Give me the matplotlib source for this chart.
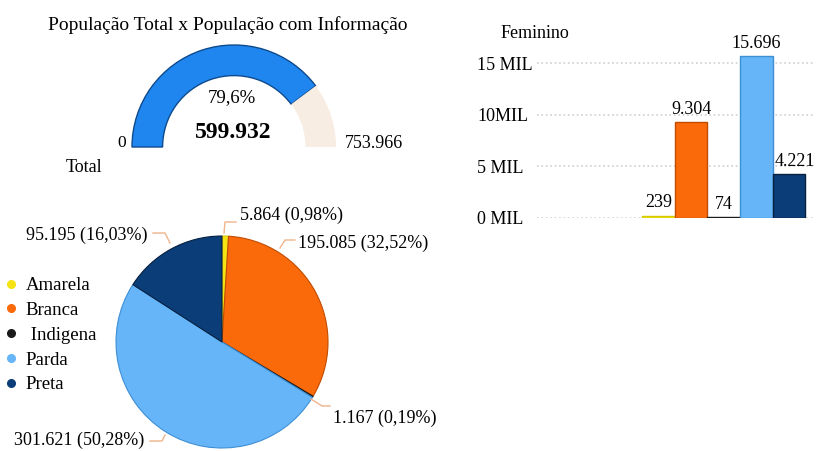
import matplotlib
matplotlib.use('Agg')
import matplotlib.pyplot as plt
from matplotlib.lines import Line2D

plt.rcParams['font.family'] = ['Liberation Serif', 'DejaVu Serif']
plt.rcParams['font.size'] = 13

# dados
pop_total = 753966
pop_info = 599932
perc_info = '79,6%'

racas = ['Amarela', 'Branca', 'Indigena', 'Parda', 'Preta']
total_raca = [5864, 195085, 1167, 301621, 95195]
perc_raca = ['0,98%', '32,52%', '0,19%', '50,28%', '16,03%']
feminino = [239, 9304, 74, 15696, 4221]
ticks_fem = [0, 5000, 10000, 15000]
ticks_fem_txt = ['0 MIL', '5 MIL', '10MIL', '15 MIL']

cores = ['#f5e313', '#fb6a0a', '#1a1a1a', '#66b5f8', '#0b3d78']
bordas = ['#d8c800', '#c04c00', '#1a1a1a', '#3d8fd6', '#06203f']

W, H = 817, 451


def fx(x):
    return x / W


def fy(y):
    return 1 - y / H


def fmt(v):
    return f'{v:,}'.replace(',', '.')


fig = plt.figure(figsize=(W / 100, H / 100), dpi=100)

# ---- gauge ----
cx, cy, R = 234, 147, 102
k = 1.3
ax_g = fig.add_axes([fx(cx - k * R), fy(cy + k * R), 2 * k * R / W, 2 * k * R / H])
wg, _ = ax_g.pie([pop_info, pop_total - pop_info, pop_total],
                 colors=['#1e86ee', '#f8ede3', 'none'],
                 startangle=180, counterclock=False, radius=1,
                 wedgeprops=dict(width=0.30, linewidth=0))
wg[0].set_edgecolor('#0e4a8e')
wg[0].set_linewidth(1.0)
ax_g.set_xlim(-k, k)
ax_g.set_ylim(-k, k)
ax_g.set_aspect('equal')
ax_g.axis('off')

fig.text(fx(228), fy(25), 'População Total x População com Informação',
         ha='center', va='center', fontsize=14)
fig.text(fx(232), fy(98), perc_info, ha='center', va='center', fontsize=13.5)
fig.text(fx(233), fy(132), fmt(pop_info), ha='center', va='center',
         fontsize=17, fontweight='bold')
fig.text(fx(122), fy(143), '0', ha='center', va='center', fontsize=12.5)
fig.text(fx(374), fy(143), fmt(pop_total), ha='center', va='center', fontsize=13)
fig.text(fx(66), fy(167), 'Total', ha='left', va='center', fontsize=13)

# ---- pizza ----
pcx, pcy, PR = 222, 342, 106
kp = 1.02
ax_p = fig.add_axes([fx(pcx - kp * PR), fy(pcy + kp * PR), 2 * kp * PR / W, 2 * kp * PR / H])
wp, _ = ax_p.pie(total_raca, colors=cores, startangle=90, counterclock=False,
                 radius=1, wedgeprops=dict(linewidth=0.8))
for w, b in zip(wp, bordas):
    w.set_edgecolor(b)
ax_p.set_xlim(-kp, kp)
ax_p.set_ylim(-kp, kp)
ax_p.set_aspect('equal')
ax_p.axis('off')

# rótulos com linhas guia
guias = [
    [(224, 233), (225, 222), (236, 222)],
    [(280, 248), (285, 240), (295, 240)],
    [(311, 399), (322, 406), (330, 406)],
    [(165, 435), (162, 441), (150, 441)],
    [(170, 243), (165, 233), (153, 233)],
]
pos_txt = [(240, 215, 'left'), (298, 243, 'left'), (333, 418, 'left'),
           (144, 440, 'right'), (148, 235, 'right')]
for i in range(len(racas)):
    xs = [fx(p[0]) for p in guias[i]]
    ys = [fy(p[1]) for p in guias[i]]
    fig.add_artist(Line2D(xs, ys, color='#f0b48c', lw=1, transform=fig.transFigure))
    tx, ty, ha = pos_txt[i]
    fig.text(fx(tx), fy(ty), f'{fmt(total_raca[i])} ({perc_raca[i]})',
             ha=ha, va='center', fontsize=13)

handles = [Line2D([], [], marker='o', ls='', color=c, markersize=5.5) for c in cores]
fig.legend(handles, [r if r != 'Indigena' else ' Indigena' for r in racas],
           loc='upper left', bbox_to_anchor=(fx(4), fy(277)), frameon=False,
           handlelength=0.7, handletextpad=0.45, labelspacing=0.41,
           borderpad=0, borderaxespad=0, fontsize=13.5)

# ---- barras feminino ----
y0, y15 = 218, 63
px_por = (y0 - y15) / 15000
ymax = 17000
top = y0 - ymax * px_por
ax_b = fig.add_axes([fx(537), fy(y0), (815 - 537) / W, (y0 - top) / H])
x = list(range(len(racas)))
ax_b.bar(x, feminino, width=1.0, color=cores, edgecolor=bordas, linewidth=1.0, zorder=3)
ax_b.set_xlim(-3.72, 4.8)
ax_b.set_ylim(0, ymax)
ax_b.set_yticks(ticks_fem)
ax_b.set_yticklabels(ticks_fem_txt, ha='left', fontsize=13)
ax_b.tick_params(axis='y', length=0, pad=(537 - 477) * 0.72)
ax_b.tick_params(axis='x', bottom=False, labelbottom=False)
ax_b.grid(axis='y', color='#cfcfcf', linestyle=':', linewidth=1.2, zorder=0)
for s in ax_b.spines.values():
    s.set_visible(False)
desloc = [0, 0, 0, 0, 6]
for i, v in enumerate(feminino):
    ax_b.annotate(fmt(v), (i, v), xytext=(desloc[i] * 0.72, 3), textcoords='offset points',
                  ha='center', va='bottom', fontsize=13)
fig.text(fx(535), fy(33), 'Feminino', ha='center', va='center', fontsize=13)

fig.savefig('out.png', dpi=100)
